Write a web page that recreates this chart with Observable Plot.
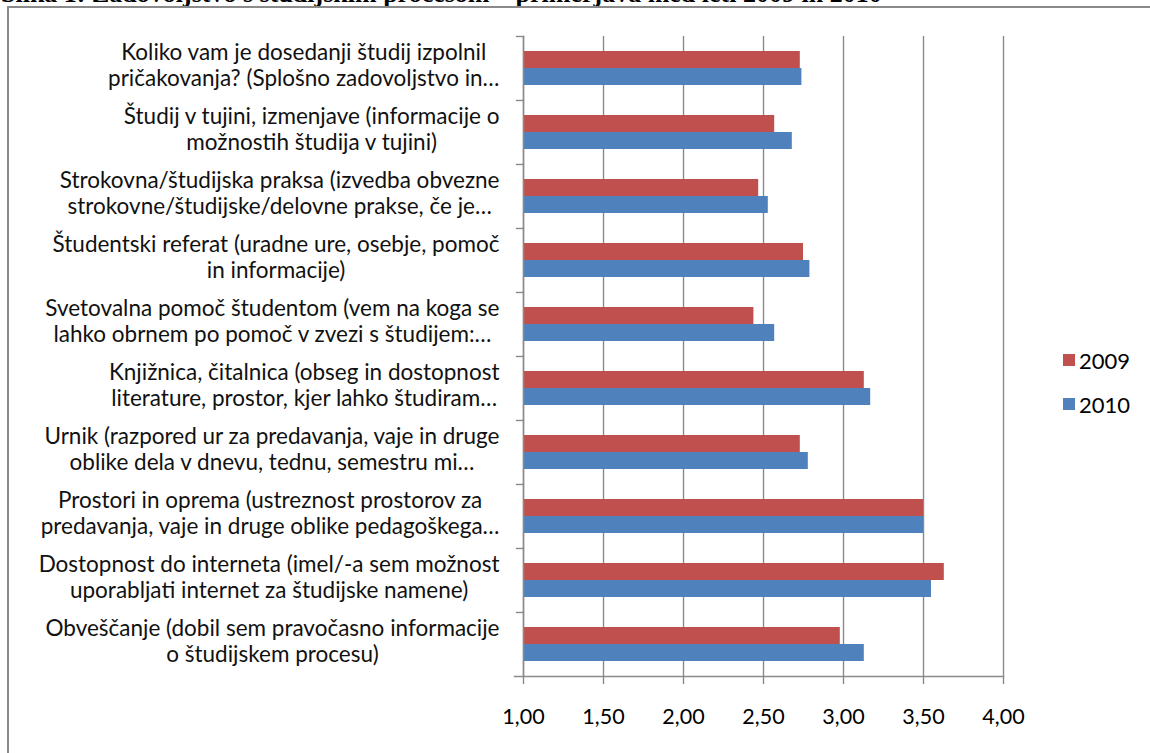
<!DOCTYPE html>
<html><head><meta charset="utf-8">
<script src="https://cdn.jsdelivr.net/npm/d3@7"></script>
<script src="https://cdn.jsdelivr.net/npm/@observablehq/plot@0.6"></script>
<style>
body{margin:0;width:1150px;height:753px;overflow:hidden;position:relative;background:#fff;font-family:Lato,sans-serif}
#title{position:absolute;left:1px;top:-19px;font:bold 26px/26px "Liberation Serif",serif;white-space:nowrap;color:#000}
#frame{position:absolute;left:7px;top:6px;width:1300px;height:900px;border:2px solid #8a8a8a;}
#chart{position:absolute;left:0;top:0}
#legend{position:absolute;left:1063px;top:348px;font:22px Lato,sans-serif;color:#000}
#legend .item{display:flex;align-items:center;height:24px;margin-bottom:20px}
#legend .sw{width:12px;height:12px;margin-right:4px}
</style></head><body>
<div id="title">Slika 1: Zadovoljstvo s študijskim procesom – primerjava med leti 2009 in 2010</div>
<div id="frame"></div>
<div id="chart"></div>
<div id="legend"></div>
<script>
const categories = [
  "Koliko vam je dosedanji študij izpolnil\npričakovanja? (Splošno zadovoljstvo in…",
  "Študij v tujini, izmenjave (informacije o\nmožnostih študija v tujini)",
  "Strokovna/študijska praksa (izvedba obvezne\nstrokovne/študijske/delovne prakse, če je…",
  "Študentski referat (uradne ure, osebje, pomoč\nin informacije)",
  "Svetovalna pomoč študentom (vem na koga se\nlahko obrnem po pomoč v zvezi s študijem:…",
  "Knjižnica, čitalnica (obseg in dostopnost\nliterature, prostor, kjer lahko študiram…",
  "Urnik (razpored ur za predavanja, vaje in druge\noblike dela v dnevu, tednu, semestru mi…",
  "Prostori in oprema (ustreznost prostorov za\npredavanja, vaje in druge oblike pedagoškega…",
  "Dostopnost do interneta (imel/-a sem možnost\nuporabljati internet za študijske namene)",
  "Obveščanje (dobil sem pravočasno informacije\no študijskem procesu)"
];
const values2009 = [2.73, 2.57, 2.47, 2.75, 2.44, 3.13, 2.73, 3.50, 3.63, 2.98];
const values2010 = [2.74, 2.68, 2.53, 2.79, 2.57, 3.17, 2.78, 3.50, 3.55, 3.13];
const series = ["2009", "2010"];
const colors = ["#C0504D", "#4F81BD"];
const xTicks = [1, 1.5, 2, 2.5, 3, 3.5, 4];
const xDomain = [1, 4];
const baseline = 1;

const data = categories.flatMap((c, i) => [
  {category: c, series: series[0], value: values2009[i]},
  {category: c, series: series[1], value: values2010[i]}
]);

const W = 1150, H = 753, mL = 523, mR = 147, mT = 34, mB = 75;
const plotW = W - mL - mR;
const axisColor = "#8a8a8a";
const fmt = d => d.toFixed(2).replace(".", ",");

const plot = Plot.plot({
  width: W, height: H,
  marginLeft: mL, marginRight: mR, marginTop: mT, marginBottom: mB,
  style: {fontFamily: "Lato, sans-serif", fontSize: "21px", color: "#000", background: "transparent", overflow: "visible"},
  x: {domain: xDomain, ticks: xTicks, tickFormat: fmt, label: null, axis: null},
  fy: {domain: categories, padding: 0, label: null, axis: null},
  y: {domain: series, paddingInner: 0, paddingOuter: 0.8, axis: null},
  color: {domain: series, range: colors},
  marks: [
    Plot.gridX({ticks: xTicks, stroke: axisColor, strokeOpacity: 1, strokeWidth: 1.4}),
    Plot.barX(data, {fy: "category", y: "series", x1: baseline, x2: "value", fill: "series"}),
    Plot.frame({anchor: "top", insetLeft: -7, insetRight: plotW, stroke: axisColor, strokeWidth: 1.4}),
    Plot.frame({anchor: "left", facet: "super", stroke: axisColor, strokeWidth: 1.4}),
    Plot.frame({anchor: "bottom", facet: "super", insetLeft: -9, stroke: axisColor, strokeWidth: 1.4}),
    Plot.axisX({ticks: xTicks, tickFormat: fmt, tickSize: 8, tickPadding: 24, stroke: axisColor, strokeWidth: 1.4, label: null, fontSize: 21.5, fill: "#000"}),
    Plot.text(categories, {fy: d => d, text: d => d, frameAnchor: "left", textAnchor: "end", dx: -24, dy: -4, lineHeight: 1.17, fontSize: 22.5, fill: "#111"})
  ]
});

document.getElementById("chart").append(plot);

// centre each label's lines within its block, as the reference does
d3.select(plot).selectAll("g[aria-label=text] text").each(function () {
  const tspans = Array.from(this.querySelectorAll("tspan"));
  if (!tspans.length) return;
  const maxW = Math.max(...tspans.map(t => t.getComputedTextLength()));
  this.setAttribute("text-anchor", "middle");
  tspans.forEach(t => t.setAttribute("x", -maxW / 2));
});

// legend
const leg = d3.select("#legend");
series.forEach((s, i) => {
  const it = leg.append("div").attr("class", "item");
  it.append("div").attr("class", "sw").style("background", colors[i]);
  it.append("span").text(s);
});
</script>
</body></html>
